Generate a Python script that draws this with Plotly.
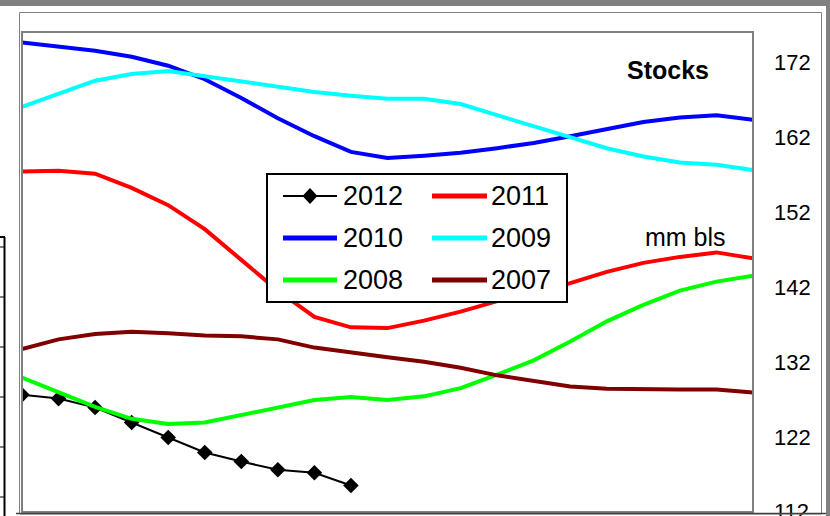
import plotly.graph_objects as go

weeks = list(range(21))
s2012 = [127.6, 127.1, 125.9, 123.9, 121.9, 119.9, 118.7, 117.6, 117.2, 115.5]
s2011 = [157.4, 157.5, 157.1, 155.2, 152.9, 149.7, 145.6, 141.5, 138.0, 136.6, 136.5,
         137.5, 138.7, 140.1, 141.2, 142.5, 144.0, 145.2, 146.0, 146.6, 145.8]
s2010 = [174.6, 174.0, 173.5, 172.7, 171.5, 169.7, 167.2, 164.5, 162.1, 160.0, 159.2,
         159.5, 159.9, 160.5, 161.2, 162.1, 163.1, 164.0, 164.6, 164.9, 164.3]
s2009 = [166.0, 167.7, 169.5, 170.4, 170.8, 170.1, 169.4, 168.6, 168.0, 167.5, 167.1,
         167.1, 166.4, 164.9, 163.4, 161.9, 160.5, 159.4, 158.6, 158.3, 157.6]
s2008 = [129.9, 128.0, 126.0, 124.4, 123.7, 123.9, 124.9, 126.0, 126.9, 127.3, 126.9,
         127.4, 128.5, 130.3, 132.2, 134.7, 137.4, 139.6, 141.5, 142.7, 143.5]
s2007 = [133.7, 135.0, 135.7, 136.0, 135.8, 135.5, 135.4, 135.0, 133.9, 133.2, 132.6,
         132.0, 131.2, 130.2, 129.4, 128.7, 128.4, 128.3, 128.3, 128.3, 127.9]
y_ticks = [112, 122, 132, 142, 152, 162, 172]

series = [
    ("2011", s2011, "#FF0000"),
    ("2010", s2010, "#0000FF"),
    ("2009", s2009, "#00FFFF"),
    ("2008", s2008, "#00FF00"),
    ("2007", s2007, "#800000"),
]

FONT = "Liberation Sans, Arial, sans-serif"
W, H = 830, 516
L, R, T, B = 22, 77, 32, 4
PW, PH = W - L - R, H - T - B


def px(x):
    return (x - L) / PW


def py(y):
    return (H - B - y) / PH


fig = go.Figure()
fig.add_trace(go.Scatter(
    x=weeks[:len(s2012)], y=s2012, mode="lines+markers", name="2012",
    line=dict(color="black", width=2),
    marker=dict(symbol="diamond", size=12, color="black"),
    showlegend=False))
for name, vals, col in series:
    fig.add_trace(go.Scatter(x=weeks, y=vals, mode="lines", name=name,
                             line=dict(color=col, width=4), showlegend=False))

shapes = []
anns = []


def rect(x0, y0, x1, y1, line_color=None, lw=1, fill=None, layer="above"):
    d = dict(type="rect", xref="paper", yref="paper",
             x0=px(x0), x1=px(x1), y0=py(y0), y1=py(y1), layer=layer)
    d["line"] = dict(color=line_color or "rgba(0,0,0,0)", width=lw if line_color else 0)
    if fill:
        d["fillcolor"] = fill
    shapes.append(d)


def seg(x0, y0, x1, y1, color, lw):
    shapes.append(dict(type="line", xref="paper", yref="paper",
                       x0=px(x0), x1=px(x1), y0=py(y0), y1=py(y1),
                       line=dict(color=color, width=lw), layer="above"))


# window chrome / frames
rect(0, 0, 830, 6, fill="#808080")
rect(826, 0, 830, 516, fill="#808080")
rect(19.5, 12.5, 821.5, 514, line_color="#808080", lw=1)
rect(22, 32, 753, 512, line_color="#808080", lw=2)
seg(16, 513.5, 826, 513.5, "#404040", 1.5)
# neighbouring chart edge at left
seg(4.5, 237, 4.5, 516, "black", 2)
seg(0, 237, 5, 237, "black", 2)
for ty in [247, 297, 347, 397, 447, 497]:
    seg(0, ty, 4.5, ty, "black", 1)

# legend
rect(267, 174, 567, 302, line_color="black", lw=2, fill="white")
legend_items = [("2012", "black", 0, 0), ("2011", "#FF0000", 1, 0),
                ("2010", "#0000FF", 0, 1), ("2009", "#00FFFF", 1, 1),
                ("2008", "#00FF00", 0, 2), ("2007", "#800000", 1, 2)]
rows = [196, 238, 280]
cols = [(283, 337, 341), (432, 487, 489)]
for name, col, c, r in legend_items:
    x0, x1, tx = cols[c]
    yy = rows[r]
    if name == "2012":
        seg(x0, yy, x1, yy, "black", 2)
        cx = (x0 + x1) / 2
        path = "M {},{} L {},{} L {},{} L {},{} Z".format(
            px(cx - 7.5), py(yy), px(cx), py(yy - 8), px(cx + 7.5), py(yy), px(cx), py(yy + 8))
        shapes.append(dict(type="path", xref="paper", yref="paper", path=path,
                           fillcolor="black", line=dict(color="black", width=0), layer="above"))
    else:
        seg(x0, yy, x1, yy, col, 5)
    anns.append(dict(x=px(tx), y=py(yy), xref="paper", yref="paper", text=name,
                     showarrow=False, xanchor="left", yanchor="middle",
                     font=dict(family=FONT, size=27, color="black")))

anns.append(dict(x=px(668), y=py(70), xref="paper", yref="paper", text="<b>Stocks</b>",
                 showarrow=False, xanchor="center", yanchor="middle",
                 font=dict(family=FONT, size=25, color="black")))
anns.append(dict(x=px(685), y=py(237), xref="paper", yref="paper", text="mm bls",
                 showarrow=False, xanchor="center", yanchor="middle",
                 font=dict(family=FONT, size=25, color="black")))

fig.update_layout(
    width=W, height=H,
    margin=dict(l=L, r=R, t=T, b=B, pad=0, autoexpand=False),
    paper_bgcolor="white", plot_bgcolor="white",
    showlegend=False,
    shapes=shapes, annotations=anns,
    xaxis=dict(range=[0, 20], visible=False, fixedrange=True, automargin=False),
    yaxis=dict(range=[111.97, 176], side="right", tickvals=y_ticks,
               ticktext=[str(v) for v in y_ticks], showgrid=False, zeroline=False,
               showline=False, ticks="", ticklabelstandoff=20,
               ticklabeloverflow="allow", automargin=False,
               tickfont=dict(family=FONT, size=22, color="black")),
)

post = (
    "document.documentElement.style.overflow='hidden';"
    "document.body.style.margin='0';document.body.style.overflow='hidden';"
)
fig.write_html("out.html", config={"displayModeBar": False}, post_script=post)
